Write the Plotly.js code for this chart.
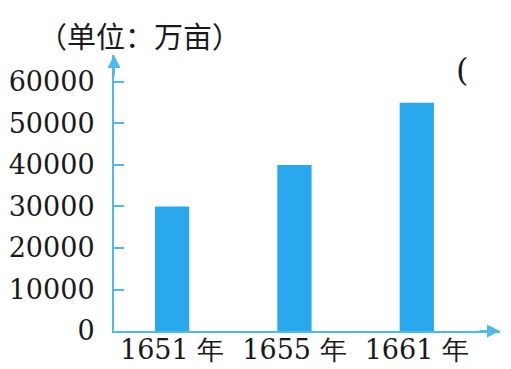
<!DOCTYPE html>
<html>
<head>
<meta charset="utf-8">
<script src="https://cdn.plot.ly/plotly-3.0.1.min.js"></script>
<style>html,body{margin:0;padding:0;background:#fff;}#chart{width:511px;height:369px;}</style>
</head>
<body>
<div id="chart"></div>
<script>
const categories = ['1651 年', '1655 年', '1661 年'];
const values = [30000, 40000, 55000];
const yTicks = [0, 10000, 20000, 30000, 40000, 50000, 60000];
const yTickLabels = ['0', '10000', '20000', '30000', '40000', '50000', '60000'];
const unitLabel = '（单位：万亩）';

const axisColor = '#4fb9ea';
const barColor = '#2aa8ee';
const serif = "'DejaVu Serif', serif";

const data = [{
  type: 'bar',
  x: categories,
  y: values,
  width: 0.28,
  marker: {color: barColor, line: {width: 0}},
  hoverinfo: 'none'
}];

const layout = {
  width: 511, height: 369,
  margin: {l: 114, r: 11, t: 55, b: 38},
  paper_bgcolor: '#fff', plot_bgcolor: '#fff',
  showlegend: false,
  font: {family: serif},
  xaxis: {
    type: 'category',
    range: [-0.475, 2.68],
    showline: true, linecolor: axisColor, linewidth: 2,
    ticks: '', showgrid: false, zeroline: false,
    tickfont: {family: serif, size: 27, color: '#1a1a1a'},
    ticklabelstandoff: -6
  },
  yaxis: {
    range: [0, 66500],
    tickvals: yTicks, ticktext: yTickLabels,
    showline: true, linecolor: axisColor, linewidth: 2,
    ticks: 'inside', ticklen: 10, tickwidth: 2, tickcolor: axisColor,
    showgrid: false, zeroline: false,
    tickfont: {family: serif, size: 27, color: '#1a1a1a'},
    ticklabelstandoff: 12
  },
  annotations: [
    {xref: 'paper', yref: 'paper', x: 0, y: 1, ax: 0, ay: 22, axref: 'pixel', ayref: 'pixel',
     text: '', showarrow: true, arrowhead: 2, arrowsize: 1.3, arrowwidth: 2, arrowcolor: axisColor},
    {xref: 'paper', yref: 'paper', x: 1, y: 0, ax: -22, ay: 0, axref: 'pixel', ayref: 'pixel',
     text: '', showarrow: true, arrowhead: 2, arrowsize: 1.3, arrowwidth: 2, arrowcolor: axisColor},
    {xref: 'paper', yref: 'paper', x: (139 - 114) / 386, y: (369 - 38 - 35) / 276, yanchor: 'middle', xanchor: 'center',
     text: unitLabel, showarrow: false,
     font: {family: "'Noto Sans CJK SC', sans-serif", size: 29, color: '#1a1a1a'}},
    {xref: 'paper', yref: 'paper', x: (462 - 114) / 386, y: (331 - 70) / 276, yanchor: 'middle', xanchor: 'center',
     text: '(', showarrow: false,
     font: {family: serif, size: 32, color: '#1a1a1a'}}
  ]
};

Plotly.newPlot('chart', data, layout, {staticPlot: true, displayModeBar: false});
</script>
</body>
</html>
